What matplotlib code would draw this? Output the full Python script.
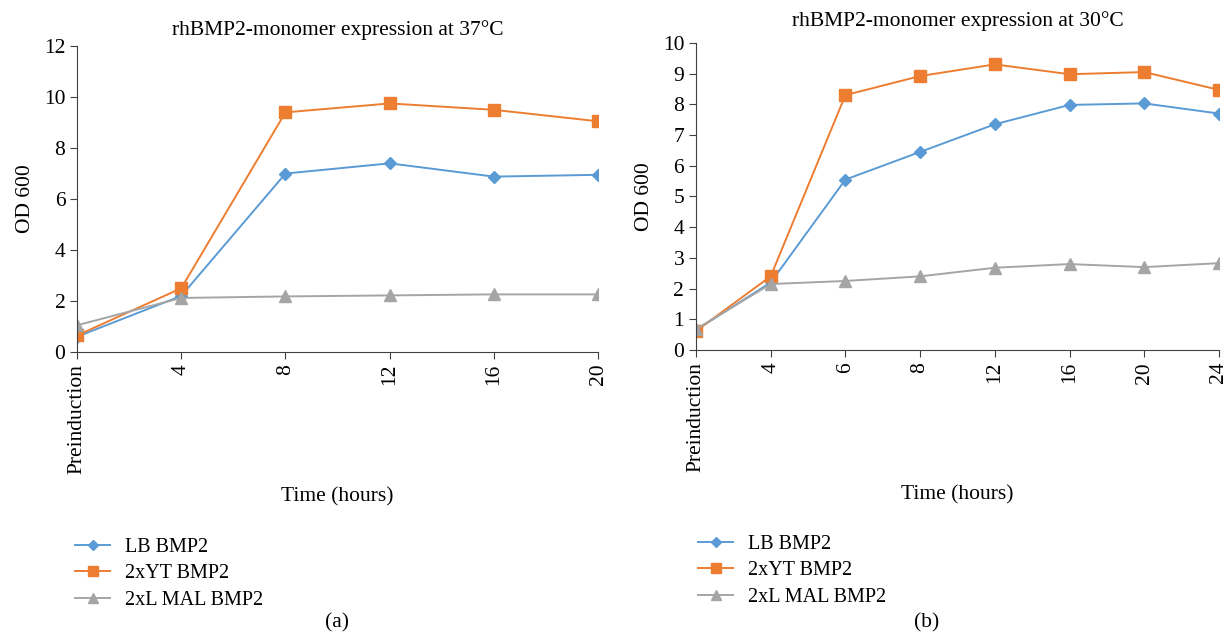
import matplotlib

matplotlib.use("Agg")
import matplotlib.pyplot as plt

plt.rcParams["font.family"] = ["Liberation Serif", "DejaVu Serif"]

# panel (a): 37 C
times_a = ["Preinduction", "4", "8", "12", "16", "20"]
lb_a = [0.6, 2.2, 7.0, 7.4, 6.88, 6.95]
yt_a = [0.65, 2.5, 9.4, 9.75, 9.5, 9.05]
mal_a = [1.05, 2.12, 2.18, 2.22, 2.26, 2.26]

# panel (b): 30 C
times_b = ["Preinduction", "4", "6", "8", "12", "16", "20", "24"]
lb_b = [0.65, 2.2, 5.55, 6.45, 7.35, 7.98, 8.03, 7.7]
yt_b = [0.62, 2.4, 8.3, 8.92, 9.3, 8.98, 9.05, 8.47]
mal_b = [0.68, 2.15, 2.25, 2.4, 2.68, 2.8, 2.7, 2.83]

SERIES = ["LB BMP2", "2xYT BMP2", "2xL MAL BMP2"]
COLORS = ["#5B9BD5", "#ED7D31", "#A5A5A5"]
MARKERS = ["D", "s", "^"]
MSIZES = [6, 8, 8]

FS = 15.5
LEG_FS = 14.5


def draw_panel(ax, times, series, title, ymax, ystep, title_pad):
    for name, vals, c, m, ms in zip(SERIES, series, COLORS, MARKERS, MSIZES):
        ax.plot(times, vals, color=c, marker=m, markersize=ms, lw=1.4, label=name)
    ax.set_xlim(0, len(times) - 1)
    ax.set_ylim(0, ymax)
    ax.set_yticks(range(0, ymax + 1, ystep))
    ax.tick_params(axis="x", labelrotation=90, labelsize=FS, direction="out", length=5, color="#404040")
    ax.tick_params(axis="y", labelsize=FS, direction="out", length=5, color="#404040")
    for s in ["top", "right"]:
        ax.spines[s].set_visible(False)
    for s in ["left", "bottom"]:
        ax.spines[s].set_color("#404040")
    ax.set_title(title, fontsize=FS, pad=title_pad)
    ax.set_ylabel("OD 600", fontsize=FS, labelpad=6)
    ax.set_xlabel("Time (hours)", fontsize=FS, labelpad=10)


fig = plt.figure(figsize=(12.29, 6.4), dpi=100)
ax_a = fig.add_axes([0.0627, 0.45, 0.4239, 0.478])
ax_b = fig.add_axes([0.5663, 0.453, 0.4255, 0.48])

draw_panel(ax_a, times_a, [lb_a, yt_a, mal_a], "rhBMP2-monomer expression at 37°C", 12, 2, 8)
draw_panel(ax_b, times_b, [lb_b, yt_b, mal_b], "rhBMP2-monomer expression at 30°C", 10, 1, 12)

for ax, anchor in [(ax_a, (0.0545, 0.172)), (ax_b, (0.5614, 0.177))]:
    handles, labels = ax.get_legend_handles_labels()
    fig.legend(handles, labels, loc="upper left", bbox_to_anchor=anchor, frameon=False,
               fontsize=LEG_FS, handlelength=1.75, handletextpad=0.75, labelspacing=0.36,
               borderaxespad=0, markerscale=0.85)

fig.text(0.274, 0.02, "(a)", ha="center", fontsize=FS)
fig.text(0.754, 0.02, "(b)", ha="center", fontsize=FS)

fig.savefig("out.png", dpi=100)
